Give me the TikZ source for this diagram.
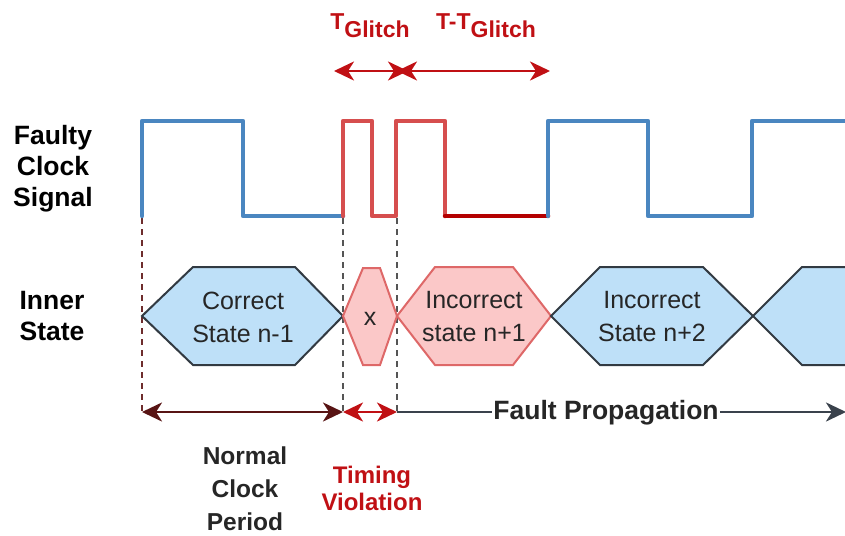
\documentclass[tikz,border=0pt]{standalone}
\usepackage{fontspec}
\setmainfont{Liberation Sans}
\usetikzlibrary{arrows.meta}
\definecolor{clkblue}{RGB}{74,134,192}
\definecolor{clkred}{RGB}{214,78,78}
\definecolor{clkdark}{RGB}{180,0,0}
\definecolor{hexblue}{RGB}{190,224,248}
\definecolor{hexedge}{RGB}{50,58,66}
\definecolor{hexpink}{RGB}{251,200,200}
\definecolor{hexpinkedge}{RGB}{222,104,104}
\definecolor{labred}{RGB}{192,16,20}
\definecolor{brown}{RGB}{88,20,20}
\definecolor{dashbrown}{RGB}{110,45,45}
\definecolor{dashgray}{RGB}{85,85,85}
\definecolor{propgray}{RGB}{58,66,76}
\tikzset{
  clk/.style={line width=4.5pt,line join=round,line cap=round},
  hexb/.style={fill=hexblue,draw=hexedge,line width=2pt,line join=miter},
  hexr/.style={fill=hexpink,draw=hexpinkedge,line width=2pt,line join=miter},
  statetxt/.style={align=center,font=\fontsize{25}{33}\selectfont,text=black!85},
  sidelab/.style={align=center,font=\fontsize{26.5}{31}\selectfont\bfseries},
  vdash/.style={line width=2.2pt,dash pattern=on 6pt off 5pt},
  tipstyle/.style={-{Stealth[length=20pt,width=19pt,inset=6pt]}},
  dblarrow/.style={line width=2.8pt,{Stealth[length=20pt,width=19pt,inset=6pt]}-{Stealth[length=20pt,width=19pt,inset=6pt]}},
}
\begin{document}
\begin{tikzpicture}[x=1pt,y=-1pt]
\useasboundingbox (0,0) rectangle (845,535);
\begin{scope}
\clip (0,0) rectangle (845,535);

% Side labels
\node[sidelab] (lclk) at (53,169) {Faulty\\Clock\\Signal};
\node[sidelab] (lstate) at (52,316) {Inner\\State};

% dashed guides
\coordinate (d1t) at (142,218); \coordinate (d1b) at (142,412);
\coordinate (d2t) at (343,218); \coordinate (d2b) at (343,412);
\coordinate (d3t) at (397,218); \coordinate (d3b) at (397,412);
\draw[vdash,dashbrown] (d1t) -- (d1b);
\draw[vdash,dashgray] (d2t) -- (d2b);
\draw[vdash,dashgray] (d3t) -- (d3b);

% Clock signal
\draw[clk,clkblue] (142,216) -- (142,121) -- (243,121) -- (243,216) -- (343,216);
\draw[clk,clkred] (343,216) -- (343,121) -- (372,121) -- (372,216) -- (396,216) -- (396,121) -- (445,121) -- (445,216);
\draw[clk,clkdark] (445,216) -- (548,216);
\draw[clk,clkblue] (548,216) -- (548,121) -- (648,121) -- (648,216) -- (752,216) -- (752,121) -- (850,121);

% Hexagons
\draw[hexb] (142,316) -- (193,267) -- (295,267) -- (343,316) -- (295,365) -- (193,365) -- cycle;
\draw[hexr] (343,316) -- (363,268) -- (380,268) -- (397,316) -- (380,365) -- (363,365) -- cycle;
\draw[hexr] (397,316) -- (435,267) -- (513,267) -- (551,316) -- (513,365) -- (435,365) -- cycle;
\draw[hexb] (551,316) -- (600,267) -- (703,267) -- (753,316) -- (703,365) -- (600,365) -- cycle;
\fill[hexblue] (753,316) -- (802,267) -- (860,267) -- (860,365) -- (802,365) -- cycle;
\draw[hexedge,line width=2pt,line join=miter] (860,267) -- (802,267) -- (753,316) -- (802,365) -- (860,365);

\node[statetxt] (s1) at (243,317) {Correct\\State n-1};
\node[statetxt] (s2) at (370,319) {x};
\node[statetxt] (s3) at (474,317) {Incorrect\\state n+1};
\node[statetxt] (s4) at (652,317) {Incorrect\\State n+2};

% Top arrows
\coordinate (ta) at (334,71);
\coordinate (tb) at (408,71);
\coordinate (tc) at (397,71);
\coordinate (td) at (550,71);
\draw[dblarrow,labred] (ta) -- (tb);
\draw[dblarrow,labred] (tc) -- (td);
\node[text=labred,font=\fontsize{23}{23}\selectfont\bfseries] (tg) at (370,26)
  {T\raisebox{-8pt}{Glitch}};
\node[text=labred,font=\fontsize{23}{23}\selectfont\bfseries] (ttg) at (486,26)
  {T-T\raisebox{-8pt}{Glitch}};

% Bottom arrows
\draw[dblarrow,brown] (d1b) -- (d2b);
\draw[dblarrow,labred] (d2b) -- (d3b);
\coordinate (pend) at (846,412);
\draw[line width=2.8pt,propgray,tipstyle] (d3b) -- (pend);
\node[fill=white,inner sep=1pt,font=\fontsize{26.5}{26.5}\selectfont\bfseries,text=black!85] (fp) at (606,413) {Fault Propagation};

% Bottom labels
\node[align=center,font=\fontsize{24.5}{33}\selectfont\bfseries,text=black!85] (ncp) at (245,489) {Normal\\Clock\\Period};
\node[align=center,font=\fontsize{24}{27}\selectfont\bfseries,text=labred] (tv) at (372,488) {Timing\\Violation};
\end{scope}
\end{tikzpicture}
\end{document}
